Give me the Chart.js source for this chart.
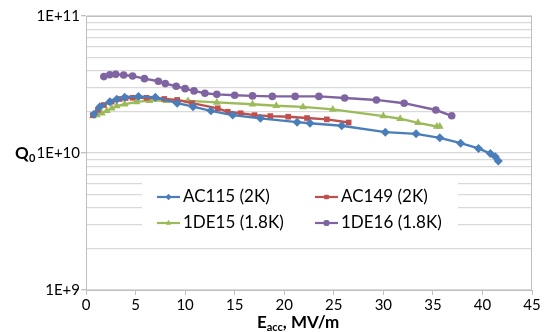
<!DOCTYPE html>
<html lang="en">
<head>
<meta charset="UTF-8">
<title>Q0 vs Eacc</title>
<script src="https://cdn.jsdelivr.net/npm/chart.js"></script>
<style>
  html, body { margin: 0; padding: 0; background: #fff; }
  #wrap { width: 547px; height: 332px; position: relative; }
</style>
</head>
<body>
<div id="wrap"><canvas id="grafico"></canvas></div>
<script>
// --- data ---
const ac115E = [0.8, 1.4, 2.4, 3.1, 3.9, 5.3, 7.0, 9.2, 10.8, 12.6, 14.8, 17.6, 21.3, 22.6, 25.8, 30.2, 33.3, 35.7, 37.8, 39.6, 40.8, 41.3, 41.6];
const ac115Q = [1.92e10, 2.18e10, 2.37e10, 2.47e10, 2.55e10, 2.58e10, 2.55e10, 2.31e10, 2.18e10, 2.03e10, 1.89e10, 1.79e10, 1.68e10, 1.65e10, 1.58e10, 1.42e10, 1.38e10, 1.29e10, 1.18e10, 1.08e10, 0.99e10, 0.94e10, 0.875e10];

const ac149E = [0.7, 1.2, 1.8, 2.6, 3.4, 4.0, 4.7, 6.1, 7.9, 9.2, 10.7, 13.3, 14.3, 15.6, 17.0, 18.6, 20.4, 22.3, 24.3, 26.5];
const ac149Q = [1.89e10, 2.06e10, 2.24e10, 2.37e10, 2.48e10, 2.52e10, 2.53e10, 2.53e10, 2.48e10, 2.44e10, 2.31e10, 2.12e10, 2.0e10, 1.95e10, 1.89e10, 1.86e10, 1.84e10, 1.80e10, 1.76e10, 1.67e10];

const de15E = [0.7, 1.1, 1.6, 2.1, 2.6, 3.1, 3.9, 5.1, 6.4, 8.1, 10.3, 13.2, 16.8, 19.2, 21.9, 24.9, 30.0, 31.7, 33.5, 35.4, 35.7];
const de15Q = [1.86e10, 1.89e10, 1.95e10, 2.03e10, 2.12e10, 2.20e10, 2.27e10, 2.36e10, 2.41e10, 2.41e10, 2.40e10, 2.34e10, 2.27e10, 2.21e10, 2.17e10, 2.08e10, 1.86e10, 1.78e10, 1.66e10, 1.56e10, 1.56e10];

const de16E = [1.8, 2.4, 3.0, 3.8, 4.7, 5.9, 7.3, 8.0, 9.1, 10.0, 10.9, 12.0, 13.2, 15.0, 16.8, 18.8, 21.1, 23.5, 26.1, 29.3, 32.1, 35.3, 36.9];
const de16Q = [3.61e10, 3.73e10, 3.75e10, 3.71e10, 3.65e10, 3.49e10, 3.34e10, 3.21e10, 3.07e10, 2.95e10, 2.84e10, 2.73e10, 2.68e10, 2.64e10, 2.61e10, 2.59e10, 2.59e10, 2.59e10, 2.52e10, 2.44e10, 2.31e10, 2.06e10, 1.87e10];

const seriesNames = ['AC115 (2K)', 'AC149 (2K)', '1DE15 (1.8K)', '1DE16 (1.8K)'];
const xTicks = [0, 5, 10, 15, 20, 25, 30, 35, 40, 45];
const yMajor = [1e9, 1e10, 1e11];
const yMantissa = [1, 2, 3, 4, 5, 6, 7, 8, 9];

const FONT = 'Lato, "Liberation Sans", sans-serif';

function pares(xs, ys) {
  return xs.map((x, i) => ({ x: x, y: ys[i] }));
}

function serie(label, xs, ys, color, shape, r) {
  return {
    label: label,
    data: pares(xs, ys),
    showLine: true,
    borderColor: color,
    backgroundColor: color,
    borderWidth: 2.4,
    pointStyle: shape,
    pointRadius: r,
    pointHoverRadius: r,
    pointBorderWidth: 0
  };
}

// legend + titles + box, drawn on top of the plot
const extras = {
  id: 'extras',
  afterDatasetsDraw(chart) {
    const ctx = chart.ctx;
    const a = chart.chartArea;
    ctx.save();
    // frame of the plot area
    ctx.strokeStyle = '#bfbfbf';
    ctx.lineWidth = 1;
    ctx.strokeRect(a.left + 0.5, a.top + 0.5, a.right - a.left - 1, a.bottom - a.top);

    // legend box
    const lx = a.left + 56, ly = a.top + 162, lw = 316, lh = 64;
    ctx.fillStyle = '#fff';
    ctx.fillRect(lx, ly, lw, lh);
    ctx.font = '17px ' + FONT;
    ctx.textBaseline = 'middle';
    chart.data.datasets.forEach((ds, i) => {
      const col = i % 2, row = Math.floor(i / 2);
      const x0 = lx + 15 + col * 158;
      const y0 = ly + 19 + row * 26;
      ctx.strokeStyle = ds.borderColor;
      ctx.lineWidth = 2.2;
      ctx.beginPath();
      ctx.moveTo(x0, y0);
      ctx.lineTo(x0 + 23, y0);
      ctx.stroke();
      ctx.fillStyle = ds.borderColor;
      Chart.helpers.drawPoint(ctx, {
        pointStyle: ds.pointStyle, radius: 3, borderWidth: 0, rotation: 0
      }, x0 + 11.5, y0);
      ctx.fill();
      ctx.fillStyle = '#000';
      ctx.textAlign = 'left';
      ctx.fillText(ds.label, x0 + 26, y0);
    });

    // y title Q0
    ctx.fillStyle = '#000';
    const yMid = chart.scales.y.getPixelForValue(1e10);
    ctx.font = 'bold 17px ' + FONT;
    ctx.textAlign = 'left';
    ctx.textBaseline = 'alphabetic';
    ctx.fillText('Q', 15, yMid + 6);
    ctx.font = 'bold 11px ' + FONT;
    ctx.fillText('0', 29, yMid + 9);

    // x title E_acc, MV/m
    ctx.font = 'bold 17px ' + FONT;
    const baseY = 328;
    let x = 257;
    ctx.fillText('E', x, baseY);
    x += ctx.measureText('E').width;
    ctx.font = 'bold 11px ' + FONT;
    ctx.fillText('acc', x, baseY + 3);
    x += ctx.measureText('acc').width;
    ctx.font = 'bold 17px ' + FONT;
    ctx.fillText(', MV/m', x, baseY);
    ctx.restore();
  }
};

function crearGrafico() {
  const ctx = document.getElementById('grafico').getContext('2d');
  new Chart(ctx, {
    type: 'scatter',
    data: {
      datasets: [
        serie(seriesNames[0], ac115E, ac115Q, '#4a7ebb', 'rectRot', 4.5),
        serie(seriesNames[1], ac149E, ac149Q, '#c0504d', 'rect', 4),
        serie(seriesNames[2], de15E, de15Q, '#9bbb59', 'triangle', 4.5),
        serie(seriesNames[3], de16E, de16Q, '#8064a2', 'circle', 3.8)
      ]
    },
    options: {
      responsive: true,
      maintainAspectRatio: false,
      animation: false,
      layout: { padding: { top: 16, right: 15, left: 0, bottom: 0 } },
      plugins: {
        legend: { display: false },
        tooltip: { enabled: false }
      },
      scales: {
        x: {
          type: 'linear',
          min: 0,
          max: 45,
          afterBuildTicks(scale) {
            scale.ticks = xTicks.map(v => ({ value: v }));
          },
          afterFit(scale) { scale.height = 42; },
          grid: { drawOnChartArea: false, tickLength: 5, color: '#bfbfbf' },
          border: { color: '#bfbfbf' },
          ticks: {
            font: { family: FONT, size: 15 },
            color: '#000',
            padding: 1,
            maxRotation: 0
          }
        },
        y: {
          type: 'logarithmic',
          min: 1e9,
          max: 1e11,
          afterBuildTicks(scale) {
            const t = [];
            [1e9, 1e10].forEach(d => yMantissa.forEach(m => t.push({ value: m * d })));
            t.push({ value: 1e11 });
            scale.ticks = t;
          },
          afterFit(scale) { scale.width = 86; },
          grid: {
            color: '#d9d9d9',
            lineWidth: 1.3,
            tickLength: 5,
            tickColor: c => (c.tick && yMajor.includes(c.tick.value)) ? '#bfbfbf' : 'rgba(0,0,0,0)'
          },
          border: { color: '#bfbfbf' },
          ticks: {
            autoSkip: false,
            font: { family: FONT, size: 15 },
            color: '#000',
            padding: 1,
            callback: v => yMajor.includes(v) ? v.toExponential(0).toUpperCase() : ''
          }
        }
      }
    },
    plugins: [extras]
  });
}

document.addEventListener('DOMContentLoaded', crearGrafico);
</script>
</body>
</html>
